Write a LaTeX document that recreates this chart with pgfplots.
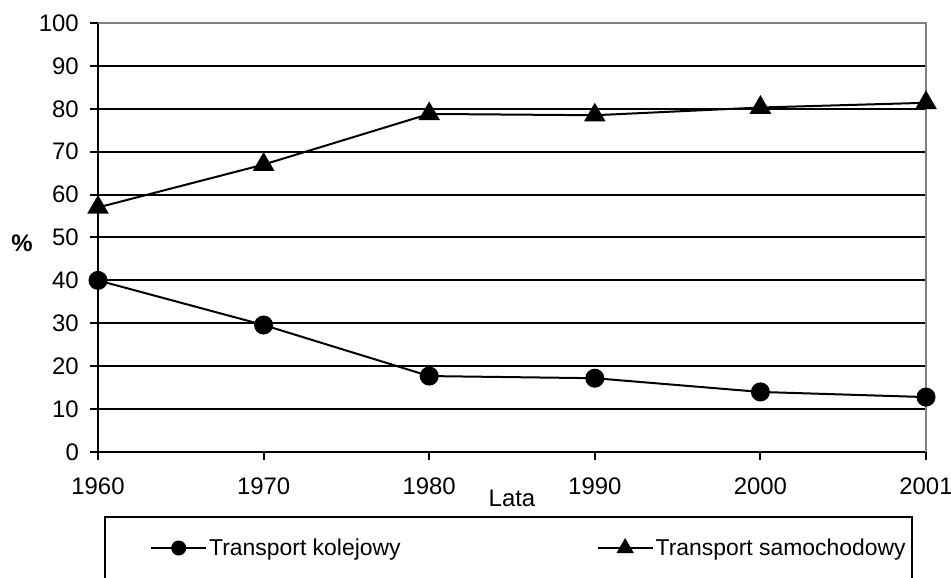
\documentclass[border=0pt]{standalone}
\usepackage{pgfplots}
\pgfplotsset{compat=1.18}
\usepackage{fontspec}
\setmainfont{Liberation Sans}

\begin{document}
\begin{tikzpicture}[font=\fontsize{24}{28}\selectfont]
\path[use as bounding box] (0,0) rectangle (951bp,578bp);
\begin{axis}[
  at={(98bp,126bp)}, anchor=south west,
  width=828bp, height=429bp, scale only axis,
  xmin=0, xmax=5, ymin=0, ymax=100,
  xtick={0,...,5}, xticklabels={1960,1970,1980,1990,2000,2001},
  ytick={0,10,...,100},
  axis x line*=bottom, axis y line*=left,
  axis line style={line width=2bp, black, -},
  ymajorgrids, grid style={line width=2bp, black},
  tick style={line width=2bp, black},
  tick align=outside, major tick length=8bp,
  /pgf/number format/assume math mode=true,
  ticklabel style={font=\fontsize{24}{28}\selectfont},
  xticklabel style={anchor=base, yshift=-34bp},
  yticklabel style={anchor=east, inner sep=0pt, xshift=-11bp},
  clip=false,
  legend columns=2,
  legend style={draw=none, fill=none, at={(0.0628,-0.2238)}, anchor=west,
    inner xsep=0pt, inner ysep=0pt,
    nodes={inner sep=0pt, font=\fontsize{23}{27}\selectfont},
    /tikz/every odd column/.append style={column sep=2bp},
    /tikz/every even column/.append style={column sep=196bp}},
  legend image code/.code={\draw[mark repeat=2,mark phase=2,#1] plot coordinates {(0bp,0bp) (27.5bp,0bp) (55bp,0bp)};},
]
\draw[gray, line width=2bp] (rel axis cs:0,1) -- (rel axis cs:1,1) -- (rel axis cs:1,0);
\addplot[black, line width=2bp, mark=*, mark size=8.5bp, mark options={solid, fill=black},
  legend image post style={mark size=6.5bp}]
  coordinates {(0,40) (1,29.6) (2,17.7) (3,17.2) (4,14.0) (5,12.8)};
\addlegendentry{Transport kolejowy}
\addplot[black, line width=2bp, mark=triangle*, mark size=10.5bp, mark options={solid, fill=black},
  legend image post style={mark size=8bp}]
  coordinates {(0,57) (1,67) (2,78.8) (3,78.5) (4,80.3) (5,81.4)};
\addlegendentry{Transport samochodowy}
\end{axis}
\node[anchor=base] at (512bp,71bp) {Lata};
\node[font=\fontsize{24}{28}\selectfont\bfseries] at (22bp,335bp) {\%};
\draw[line width=2bp] (105bp,-20bp) -- (105bp,61bp) -- (912bp,61bp) -- (912bp,-20bp);
\end{tikzpicture}
\end{document}
